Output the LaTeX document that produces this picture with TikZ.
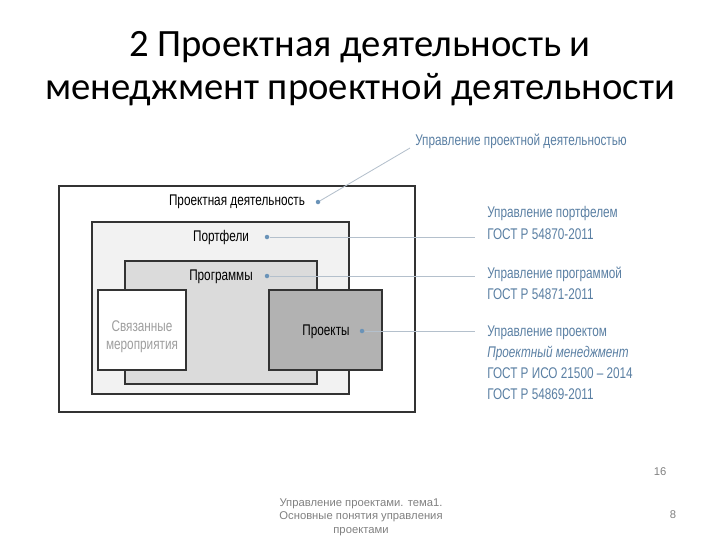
\documentclass[tikz,border=0pt]{standalone}
\usepackage{fontspec}
\setmainfont{Carlito}
\newfontfamily\narrowfont[FakeStretch=0.76]{Liberation Sans}
\newfontfamily\footfont{Liberation Sans}
\definecolor{labelblue}{HTML}{5A7FA3}
\definecolor{dotblue}{HTML}{6A93B8}
\definecolor{leadgrey}{HTML}{B4C0CC}
\tikzset{
	box/.style={draw=black!80, line width=0.9pt},
	lbl/.style={font=\narrowfont\fontsize{11}{12}\selectfont, inner sep=0pt},
	note/.style={lbl, text=labelblue, anchor=west, align=left},
	dot/.style={circle, fill=dotblue, inner sep=0pt, minimum size=3.2pt},
	lead/.style={draw=leadgrey, line width=0.6pt},
	foot/.style={font=\footfont\fontsize{8}{9.6}\selectfont, text=black!50, inner sep=0pt}
}
\begin{document}
\begin{tikzpicture}[x=0.025cm, y=-0.025cm]
	\useasboundingbox (0,0) rectangle (720,540);
	% title
	\node (t1) at (360,47) {\fontsize{27.5}{30}\selectfont 2 Проектная деятельность и};
	\node (t2) at (360,90) {\fontsize{27.5}{30}\selectfont менеджмент проектной деятельности};
	% nested boxes
	\draw[box, fill=white]       (59,186)  rectangle (415,412);
	\draw[box, fill=black!5]     (92,222)  rectangle (349,394);
	\draw[box, fill=black!14]    (125,261) rectangle (317,384);
	\draw[box, fill=white]       (98,290)  rectangle (186,370);
	\draw[box, fill=black!30]    (269,290) rectangle (382,370);
	% labels inside
	\node[lbl] (pd)   at (237,202) {Проектная деятельность};
	\node[lbl] (port) at (221,237) {Портфели};
	\node[lbl] (prog) at (221,277) {Программы};
	\node[lbl, text=black!38, align=center] (rel) at (142,337) {Связанные\\[1pt]мероприятия};
	\node[lbl] (proj) at (326,332) {Проекты};
	% dots
	\node[dot] (dpd)   at (318,202) {};
	\node[dot] (dport) at (267,237) {};
	\node[dot] (dprog) at (267,276) {};
	\node[dot] (dproj) at (362,331) {};
	% notes
	\node[note] (npd) at (415,141) {Управление проектной деятельностью};
	\node[note] (nport) at (487,223) {Управление портфелем\\[3pt]ГОСТ Р 54870-2011};
	\node[note] (nprog) at (487,283) {Управление программой\\[3pt]ГОСТ Р 54871-2011};
	\node[note] (nproj) at (487,363) {Управление проектом\\[3pt]\textit{Проектный менеджмент}\\[3pt]ГОСТ Р ИСО 21500 – 2014\\[3pt]ГОСТ Р 54869-2011};
	\coordinate (epd)   at (410,148);
	\coordinate (eport) at (475,237);
	\coordinate (eprog) at (475,276);
	\coordinate (eproj) at (475,331);
	% leaders
	\draw[lead] (dpd) -- (epd);
	\draw[lead] (dport) -- (eport);
	\draw[lead] (dprog) -- (eprog);
	\draw[lead] (dproj) -- (eproj);
	% footer
	\node[foot] (pg16) at (660,472) {16};
	\node[foot, align=center] (ft) at (361,517) {Управление проектами. тема1.\\Основные понятия управления\\проектами};
	\node[foot] (pg8) at (673,515) {8};
\end{tikzpicture}
\end{document}
